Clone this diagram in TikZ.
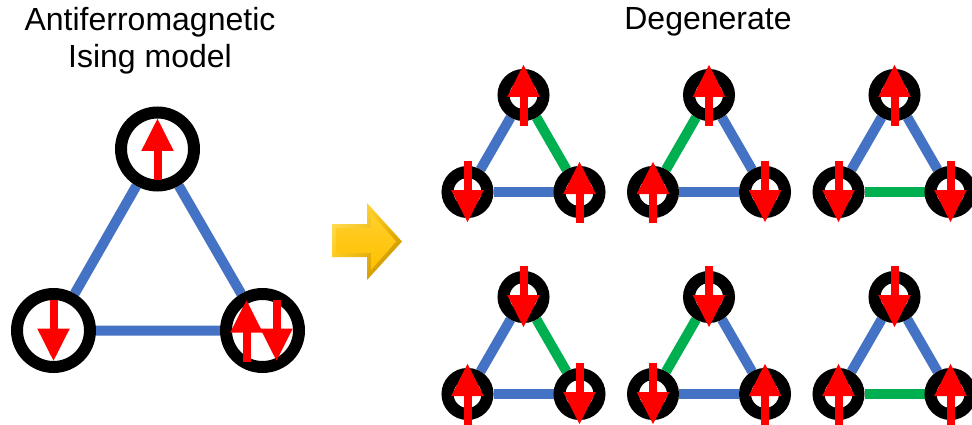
\documentclass[tikz,border=0pt]{standalone}
\usepackage{fontspec}
\setmainfont{Liberation Sans}
\usetikzlibrary{arrows.meta,backgrounds,shadings}
\definecolor{BondBlue}{RGB}{68, 114, 196}
\definecolor{BondGreen}{RGB}{0, 176, 80}
\definecolor{SpinRed}{RGB}{255, 0, 0}
\definecolor{GoldDark}{RGB}{176, 128, 0}
\definecolor{GoldMid}{RGB}{255, 192, 0}
\definecolor{GoldLight}{RGB}{255, 230, 110}
\newcommand{\bw}{10pt}

\begin{document}
\begin{tikzpicture}[x=1pt, y=-1pt,
  bond/.style={line width=\bw},
  site/.style={circle, draw=black, fill=white, line width=12pt, inner sep=0pt},
  bigsite/.style={site, minimum size=73pt},
  smallsite/.style={site, minimum size=40pt},
  spin/.style={draw=SpinRed, line width=8pt, -{Triangle[length=33pt, width=30pt]}},
  title/.style={font=\fontsize{32}{37}\selectfont, inner sep=0pt}]
  \useasboundingbox (0,0) rectangle (972,425);
  \node[title, align=center, anchor=north] (afm) at (150,7) {Antiferromagnetic\\Ising model};
  \node[title, anchor=base] (degen) at (708,30) {Degenerate};

  % large triangle
  \node[bigsite] (a) at (157.5,149) {};
  \node[bigsite] (b) at (53.5,330.5) {};
  \node[bigsite] (c) at (262.5,330.5) {};
  \begin{scope}[on background layer]
    \draw[bond, draw=BondBlue] (a) -- (b) -- (c) -- (a);
  \end{scope}
  \draw[spin] ([yshift=-31pt]a.center) -- ([yshift=31pt]a.center);
  \draw[spin] ([yshift=31pt]b.center) -- ([yshift=-31pt]b.center);
  \draw[spin] ([xshift=-16pt,yshift=-31pt]c.center) -- ([xshift=-16pt,yshift=31pt]c.center);
  \draw[spin] ([xshift=14pt,yshift=31pt]c.center) -- ([xshift=14pt,yshift=-31pt]c.center);

  % yellow arrow
  \shade[upper left=GoldLight, upper right=GoldMid, lower left=GoldMid, lower right=GoldDark]
    (332,224) -- (367,224) -- (367,203) -- (402,241.5) -- (367,280) -- (367,257) -- (332,257) -- cycle;
  \shade[top color=GoldMid!60!GoldLight, bottom color=GoldMid]
    (336,228) -- (371,228) -- (371,213) -- (396,241.5) -- (371,270) -- (371,253) -- (336,253) -- cycle;

  % six degenerate states
  \foreach \n/\cx/\cy/\lc/\rc/\bc/\st/\sl/\sr in {
    1/523.5/95/BondBlue/BondGreen/BondBlue/1/-1/1,
    2/709/95/BondGreen/BondBlue/BondBlue/1/1/-1,
    3/894.5/95/BondBlue/BondBlue/BondGreen/1/-1/-1,
    4/523.5/297/BondBlue/BondGreen/BondBlue/-1/1/-1,
    5/709/297/BondGreen/BondBlue/BondBlue/-1/-1/1,
    6/894.5/297/BondBlue/BondBlue/BondGreen/-1/1/1}{
    \node[smallsite] (t\n) at (\cx,\cy) {};
    \node[smallsite] (l\n) at (\cx-56,\cy+97) {};
    \node[smallsite] (r\n) at (\cx+56,\cy+97) {};
    \begin{scope}[on background layer]
      \draw[bond, draw=\lc] (t\n) -- (l\n);
      \draw[bond, draw=\rc] (t\n) -- (r\n);
      \draw[bond, draw=\bc] (l\n) -- (r\n);
    \end{scope}
    \draw[spin] ([yshift={-31pt*(\st)}]t\n.center) -- ([yshift={31pt*(\st)}]t\n.center);
    \draw[spin] ([yshift={-31pt*(\sl)}]l\n.center) -- ([yshift={31pt*(\sl)}]l\n.center);
    \draw[spin] ([yshift={-31pt*(\sr)}]r\n.center) -- ([yshift={31pt*(\sr)}]r\n.center);
  }
\end{tikzpicture}
\end{document}
